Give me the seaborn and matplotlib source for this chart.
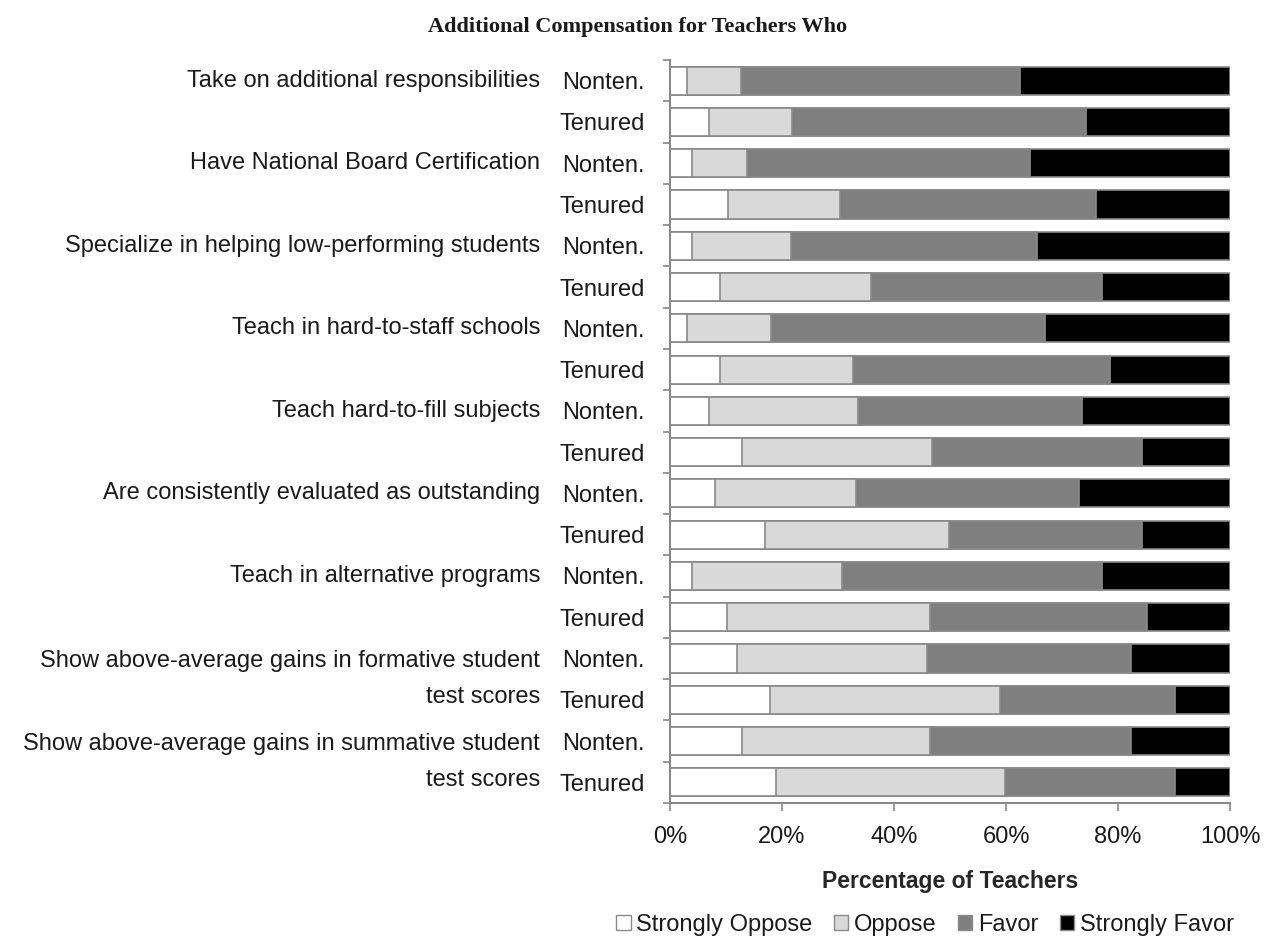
import matplotlib
matplotlib.use("Agg")
import matplotlib.pyplot as plt
from matplotlib.patches import Patch

import numpy as np
import pandas as pd
import seaborn as sns


measures = [
    "Take on additional responsibilities",
    "Have National Board Certification",
    "Specialize in helping low-performing students",
    "Teach in hard-to-staff schools",
    "Teach hard-to-fill subjects",
    "Are consistently evaluated as outstanding",
    "Teach in alternative programs",
    "Show above-average gains in formative student\ntest scores",
    "Show above-average gains in summative student\ntest scores",
]
groups = ["Nonten.", "Tenured"]
responses = ["Strongly Oppose", "Oppose", "Favor", "Strongly Favor"]

# percent of teachers, two rows per measure (Nonten. then Tenured)
strongly_oppose = [3.0, 7.0, 4.0, 10.3, 3.9, 8.9, 3.0, 8.9, 6.9,
                   12.9, 8.0, 17.0, 4.0, 10.1, 12.0, 17.9, 12.8, 18.9]
oppose = [9.7, 14.8, 9.8, 20.1, 17.7, 27.0, 15.0, 23.7, 26.6,
          33.9, 25.3, 32.9, 26.8, 36.3, 33.9, 41.0, 33.6, 41.0]
favor = [49.8, 52.4, 50.4, 45.7, 43.9, 41.3, 49.0, 45.9, 40.0,
         37.4, 39.7, 34.3, 46.4, 38.7, 36.4, 31.3, 36.0, 30.3]
strongly_favor = [37.5, 25.8, 35.8, 23.9, 34.5, 22.8, 33.0, 21.5, 26.5,
                  15.8, 27.0, 15.8, 22.8, 14.9, 17.7, 9.8, 17.6, 9.8]

colors = ["#ffffff", "#d9d9d9", "#7f7f7f", "#000000"]
edge = "#8a8a8a"
axis_gray = "#868686"

sns.set_style("white")
plt.rcParams["font.family"] = ["Liberation Sans", "DejaVu Sans"]
plt.rcParams["text.color"] = "#1a1a1a"

df = pd.DataFrame({
    "row": [m + "|" + g for m in measures for g in groups],
    "Strongly Oppose": strongly_oppose,
    "Oppose": oppose,
    "Favor": favor,
    "Strongly Favor": strongly_favor,
})
cum = df[responses].cumsum(axis=1)

fig = plt.figure(figsize=(12.72, 9.41), dpi=100)
ax = fig.add_axes([670 / 1272, 1 - 803 / 941, 560 / 1272, 743 / 941])

# stacked bars: draw cumulative totals from the right-most segment down
for resp, col in reversed(list(zip(responses, colors))):
    sns.barplot(x=cum[resp], y=df["row"], orient="h", color=col, saturation=1,
                edgecolor=edge, linewidth=1.2, width=0.68, errorbar=None, ax=ax)

ax.set_xlim(0, 100)
ax.set_ylim(17.5, -0.5)
ax.set_xticks(np.arange(0, 101, 20), labels=[f"{v}%" for v in range(0, 101, 20)])
ax.set_yticks(np.arange(-0.5, 18.0, 1.0), labels=[])
ax.set_yticks(np.arange(len(df)), labels=groups * len(measures), minor=True)
ax.set_ylabel("")

for s in ["top", "right"]:
    ax.spines[s].set_visible(False)
for s in ["left", "bottom"]:
    ax.spines[s].set_color(axis_gray)
    ax.spines[s].set_linewidth(1.4)

ax.tick_params(axis="x", length=5.5, width=1.2, color=axis_gray, pad=11,
               labelsize=17, labelcolor="#1a1a1a", direction="out", bottom=True)
ax.tick_params(axis="y", which="major", length=5, width=1.2, color=axis_gray,
               direction="out", left=True)
ax.tick_params(axis="y", which="minor", length=0, pad=18, labelsize=17,
               labelcolor="#1a1a1a")

for i, m in enumerate(measures):
    y = 2 * i + 0.5 if "\n" in m else 2 * i
    ax.text(-0.232, y, m, transform=ax.get_yaxis_transform(), ha="right",
            va="center", fontsize=17, linespacing=1.8)

ax.set_xlabel("Percentage of Teachers", fontsize=16.5, fontweight="bold",
              labelpad=16)

fig.text(638 / 1272, 1 - 27 / 941, "Additional Compensation for Teachers Who",
         ha="center", va="center", family="Liberation Serif", fontweight="bold",
         fontsize=16)

handles = [Patch(facecolor=c, edgecolor=edge, label=r)
           for r, c in zip(responses, colors)]
fig.legend(handles=handles, loc="center", bbox_to_anchor=(925 / 1272, 1 - 925 / 941),
           ncol=4, frameon=False, fontsize=17, handlelength=0.6, handleheight=0.6,
           handletextpad=0.25, columnspacing=0.9)

fig.savefig("out.png", dpi=100)
